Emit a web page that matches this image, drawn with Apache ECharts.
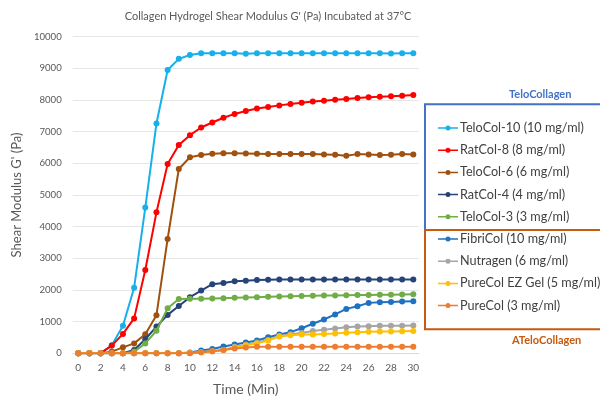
<!DOCTYPE html>
<html><head><meta charset="utf-8">
<script src="https://cdn.jsdelivr.net/npm/echarts@6/dist/echarts.min.js"></script>
<style>html,body{margin:0;padding:0;background:#fff}#c{width:600px;height:397px}</style>
</head><body><div id="c"></div>
<script>
const times = [0,1,2,3,4,5,6,7,8,9,10,11,12,13,14,15,16,17,18,19,20,21,22,23,24,25,26,27,28,29,30];
const seriesNames = ['TeloCol-10 (10 mg/ml)','RatCol-8 (8 mg/ml)','TeloCol-6 (6 mg/ml)','RatCol-4 (4 mg/ml)','TeloCol-3 (3 mg/ml)','FibriCol (10 mg/ml)','Nutragen (6 mg/ml)','PureCol EZ Gel (5 mg/ml)','PureCol (3 mg/ml)'];
const teloCol10 = [0,0,0,250,870,2070,4600,7260,8950,9300,9420,9475,9480,9480,9480,9460,9480,9480,9480,9480,9480,9480,9480,9480,9480,9480,9480,9480,9470,9480,9480];
const ratCol8 = [0,0,0,240,610,1100,2630,4450,5980,6580,6890,7130,7290,7440,7560,7650,7730,7780,7830,7870,7915,7950,7980,8010,8030,8060,8085,8105,8115,8135,8160];
const teloCol6 = [0,0,0,50,185,310,600,1200,3610,5820,6190,6260,6300,6315,6320,6310,6300,6290,6290,6290,6290,6290,6280,6270,6240,6290,6280,6260,6270,6290,6280];
const ratCol4 = [0,0,0,0,0,100,440,840,1210,1490,1770,1980,2180,2220,2270,2290,2310,2320,2330,2330,2330,2330,2330,2330,2330,2330,2330,2330,2330,2330,2330];
const teloCol3 = [0,0,0,0,0,50,310,710,1420,1710,1720,1720,1730,1740,1750,1760,1770,1780,1790,1800,1810,1815,1820,1825,1830,1835,1840,1845,1850,1855,1860];
const fibriCol = [0,0,0,0,0,0,0,0,0,0,20,85,135,210,275,340,400,505,590,665,790,930,1065,1225,1400,1485,1590,1610,1620,1630,1640];
const nutragen = [0,0,0,0,0,0,0,0,0,0,10,30,60,100,200,270,340,420,540,600,640,700,740,780,820,845,855,865,865,870,875];
const pureColEZ = [0,0,0,0,0,0,0,0,0,0,10,30,60,100,180,250,310,400,530,570,590,590,610,620,650,665,675,685,685,695,700];
const pureCol = [0,0,0,0,0,0,0,0,0,0,0,30,60,100,150,180,200,200,200,200,200,200,200,200,200,200,200,200,200,200,200];
const colors = ['#17B0EB','#FF0000','#A0500F','#264478','#70AD47','#1F72C0','#A5A5A5','#FFC000','#ED7D31'];
const allData = [teloCol10, ratCol8, teloCol6, ratCol4, teloCol3, fibriCol, nutragen, pureColEZ, pureCol];
const yTicks = {min:0, max:10000, interval:1000};

const font = 'Lato, "Open Sans", sans-serif';
const cv = document.createElement('canvas').getContext('2d');
function fit(text, targetW, base){ cv.font = base + 'px ' + font; const w = cv.measureText(text).width; return +(base*targetW/w).toFixed(2); }
const titleText = "Collagen Hydrogel Shear Modulus G' (Pa) Incubated at 37°C";
const titleSize = fit(titleText, 287, 12);
const legendSize = fit('TeloCol-10 (10 mg/ml)', 124, 12);
const yLabSize = fit('6000', 22.3, 11);
const xLabSize = fit('30', 11.7, 11);

const legendIcon = 'path://M0,1.75 L20,1.75 L20,3.25 L0,3.25 Z M12.5,2.5 A2.5,2.5 0 1 1 7.5,2.5 A2.5,2.5 0 1 1 12.5,2.5 Z';

const chart = echarts.init(document.getElementById('c'));
chart.setOption({
  animation:false,
  textStyle:{fontFamily:font},
  title:{text:titleText, left:263, textAlign:'center', top:6,
    textStyle:{fontSize:titleSize, fontWeight:'normal', color:'#595959', fontFamily:font}},
  grid:{left:72.7, right:600-418.9, top:36.7, bottom:397-353.2, containLabel:false, outerBoundsMode:'none'},
  xAxis:{type:'category', data:times.map(String), boundaryGap:true,
    name:'Time (Min)', nameLocation:'middle', nameGap:29, nameTextStyle:{fontSize:14, color:'#595959'},
    axisLine:{show:true, lineStyle:{color:'#D9D9D9'}}, axisTick:{show:false}, splitLine:{show:false},
    axisLabel:{fontSize:xLabSize, color:'#595959', margin:10, interval:1}},
  yAxis:{type:'value', min:yTicks.min, max:yTicks.max, interval:yTicks.interval,
    name:"Shear Modulus G' (Pa)", nameLocation:'middle', nameGap:43, nameTextStyle:{fontSize:13, color:'#595959'},
    axisLine:{show:false}, axisTick:{show:false},
    splitLine:{lineStyle:{color:'#E6E6E6'}},
    axisLabel:{fontSize:yLabSize, color:'#595959', margin:11, formatter:v=>String(v)}},
  legend:{orient:'vertical', left:433, top:116.5, itemWidth:20, itemHeight:5, itemGap:9.2,
    textStyle:{fontSize:legendSize, color:'#404040', fontFamily:font, padding:[0,0,0,-3]},
    data:seriesNames.map((n,i)=>({name:n, icon:legendIcon, itemStyle:{color:colors[i]}}))},
  graphic:[
    {type:'rect', shape:{x:425, y:104.3, width:190, height:125.7}, style:{fill:null, stroke:'#4472C4', lineWidth:2}, z:10},
    {type:'rect', shape:{x:425, y:230, width:190, height:99.3}, style:{fill:null, stroke:'#C55A11', lineWidth:2}, z:10},
    {type:'text', left:509, top:88.5, style:{text:'TeloCollagen', textAlign:'center', fill:'#4472C4', font:'bold 11px '+font}},
    {type:'text', left:512, top:335, style:{text:'ATeloCollagen', textAlign:'center', fill:'#C55A11', font:'bold 11px '+font}}
  ],
  series: allData.map((d,i)=>({
    name:seriesNames[i], type:'line', data:d,
    symbol:'circle', symbolSize:6, color:colors[i],
    lineStyle:{width:2, color:colors[i]}, itemStyle:{color:colors[i]}, z:2+i
  }))
});
</script></body></html>
